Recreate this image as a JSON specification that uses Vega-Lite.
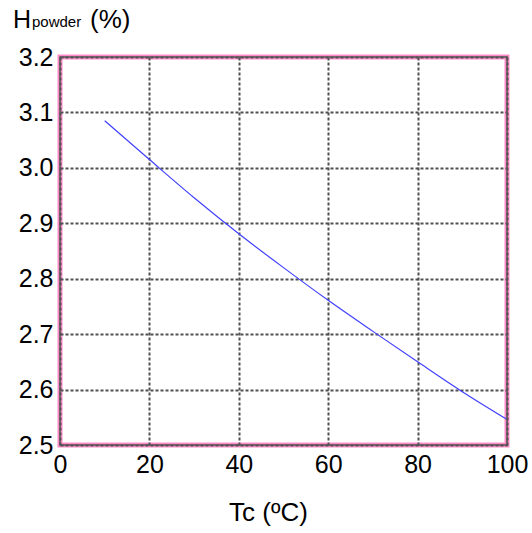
{
  "$schema": "https://vega.github.io/schema/vega-lite/v6.json",
  "autosize": {"type": "none"},
  "width": 447,
  "height": 388,
  "padding": {"left": 60, "top": 57, "right": 25, "bottom": 88},
  "background": "white",
  "config": {
    "view": {"stroke": "#ff8cc8", "strokeWidth": 5},
    "font": "Liberation Sans",
    "axis": {
      "labelFont": "Liberation Sans",
      "titleFont": "Liberation Sans",
      "labelColor": "black",
      "titleColor": "black",
      "labelFontSize": 25,
      "titleFontSize": 26,
      "titleFontWeight": "normal",
      "ticks": false,
      "domain": false,
      "gridColor": "#505050",
      "gridDash": [3, 2],
      "gridWidth": 2,
      "gridOpacity": 1
    }
  },
  "layer": [
    {
      "data": {
        "values": [
          {"Tc": 10, "H": 3.085},
          {"Tc": 20, "H": 3.015},
          {"Tc": 30, "H": 2.946},
          {"Tc": 40, "H": 2.881},
          {"Tc": 50, "H": 2.82},
          {"Tc": 60, "H": 2.761},
          {"Tc": 70, "H": 2.705},
          {"Tc": 80, "H": 2.65},
          {"Tc": 90, "H": 2.596},
          {"Tc": 100, "H": 2.546}
        ]
      },
      "mark": {"type": "line", "color": "#4040ff", "strokeWidth": 1.2, "interpolate": "monotone"},
      "encoding": {
        "x": {
          "field": "Tc", "type": "quantitative",
          "scale": {"domain": [0, 100], "nice": false},
          "axis": {"values": [0, 20, 40, 60, 80, 100], "title": "Tc (ºC)", "labelPadding": 7, "titlePadding": 22, "titleX": 208, "labelFlush": false}
        },
        "y": {
          "field": "H", "type": "quantitative",
          "scale": {"domain": [2.5, 3.2], "nice": false, "zero": false},
          "axis": {"values": [2.5, 2.6, 2.7, 2.8, 2.9, 3.0, 3.1, 3.2], "format": ".1f", "title": null, "labelPadding": 7, "labelFlush": false}
        }
      }
    },
    {
      "data": {"values": [{"x0": 0, "x1": 100, "y0": 2.5, "y1": 3.2}]},
      "mark": {"type": "rect", "fill": null, "stroke": "#555555", "strokeWidth": 1.5},
      "encoding": {
        "x": {"field": "x0", "type": "quantitative"},
        "x2": {"field": "x1"},
        "y": {"field": "y0", "type": "quantitative"},
        "y2": {"field": "y1"}
      }
    },
    {
      "data": {"values": [{"x": 0, "y": 3.2, "label": "H"}]},
      "mark": {"type": "text", "font": "Liberation Sans", "fontWeight": "normal", "fontSize": 25, "align": "left", "baseline": "alphabetic", "dx": -47, "dy": -29, "color": "black"},
      "encoding": {"x": {"field": "x", "type": "quantitative"}, "y": {"field": "y", "type": "quantitative"}, "text": {"field": "label"}}
    },
    {
      "data": {"values": [{"x": 0, "y": 3.2, "label": "powder"}]},
      "mark": {"type": "text", "font": "Liberation Sans", "fontWeight": "normal", "fontSize": 15, "align": "left", "baseline": "alphabetic", "dx": -28, "dy": -30, "color": "black"},
      "encoding": {"x": {"field": "x", "type": "quantitative"}, "y": {"field": "y", "type": "quantitative"}, "text": {"field": "label"}}
    },
    {
      "data": {"values": [{"x": 0, "y": 3.2, "label": "(%)"}]},
      "mark": {"type": "text", "font": "Liberation Sans", "fontWeight": "normal", "fontSize": 26, "align": "left", "baseline": "alphabetic", "dx": 30, "dy": -29, "color": "black"},
      "encoding": {"x": {"field": "x", "type": "quantitative"}, "y": {"field": "y", "type": "quantitative"}, "text": {"field": "label"}}
    }
  ]
}
